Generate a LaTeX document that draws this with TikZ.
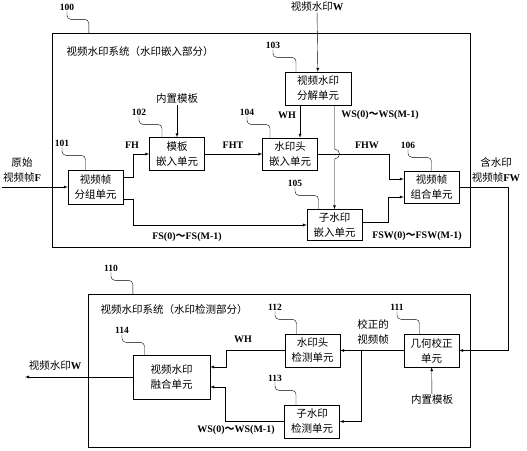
\documentclass[tikz,border=0pt]{standalone}
\usepackage{fontspec}
\setmainfont{Liberation Serif}
\newfontfamily\cjk{Noto Sans CJK SC}
\usetikzlibrary{positioning}
\newcommand{\lat}[1]{{\rmfamily\bfseries #1}}
\newcommand{\tl}{{\cjk ～}}

\begin{document}
\begin{tikzpicture}[x=1pt,y=-1pt]
% Define styles
\tikzstyle{unit}=[rectangle, draw, minimum width=55pt, minimum height=33pt, fill=white, align=center, inner sep=1pt, font=\cjk\fontsize{10.5}{15}\selectfont]
\tikzstyle{txt}=[align=center, inner sep=1pt, font=\cjk\fontsize{10.5}{15}\selectfont]
\tikzstyle{sig}=[inner sep=1pt, font=\bfseries\fontsize{10}{12}\selectfont]
\tikzstyle{num}=[inner sep=1pt, font=\bfseries\fontsize{9.5}{11}\selectfont]
\tikzstyle{arrow}=[->,>=latex]
\tikzstyle{lead}=[rounded corners=4pt]
\useasboundingbox (0,0) rectangle (527,450);
% System boxes
\node[draw, minimum width=418pt, minimum height=214pt, inner sep=0pt] (sysA) at (261,140) {};
\node[draw, minimum width=382pt, minimum height=153pt, inner sep=0pt] (sysB) at (279,370.5) {};
\node[txt] (titleA) at (140,52) {视频水印系统（水印嵌入部分）};
\node[txt] (titleB) at (174,310) {视频水印系统（水印检测部分）};
% Embedding units
\node[unit, minimum height=34pt] (split) at (95.5,187) {视频帧\\分组单元};
\node[unit] (tmpl) at (177,154) {模板\\嵌入单元};
\node[unit, minimum width=66pt] (decomp) at (318,88.5) {视频水印\\分解单元};
\node[unit, minimum height=32pt] (hdremb) at (290,154) {水印头\\嵌入单元};
\node[unit, minimum height=31pt] (subemb) at (334.5,225) {子水印\\嵌入单元};
\node[unit, minimum height=32pt] (comb) at (431.5,187) {视频帧\\组合单元};
% Detection units
\node[unit] (geo) at (431.5,350.5) {几何校正\\单元};
\node[unit] (hdrdet) at (312.5,350.5) {水印头\\检测单元};
\node[unit] (subdet) at (312,421.5) {子水印\\检测单元};
\node[unit, minimum width=77pt, minimum height=44pt] (fuse) at (171.5,377) {视频水印\\融合单元};
% Outside texts
\node[txt] (srcF) at (22,170) {原始\\视频帧\lat{F}};
\node[txt] (outFW) at (496,170) {含水印\\视频帧\lat{FW}};
\node[txt] (wtop) at (317,7) {视频水印\lat{W}};
\node[txt] (tmplA) at (177,99) {内置模板};
\node[txt] (tmplB) at (432,400) {内置模板};
\node[txt] (wbot) at (55,366) {视频水印\lat{W}};
\node[txt] (corr) at (373,332) {校正的\\视频帧};
% Coordinates
\coordinate (fin) at (2,187);
\coordinate (fwturn) at (508,350.5);
\coordinate (wout) at (25,377);
\coordinate (br) at (361,350.5);
% Draw arrows (embedding)
\draw[arrow] (fin) -- (split);
\draw[arrow] ([yshift=10pt]split.east) -- ++(10,0) |- (tmpl.west);
\draw[arrow] ([yshift=-12pt]split.east) -- ++(10,0) |- (subemb.west);
\draw[arrow] (tmplA) -- (tmpl);
\draw[arrow] (tmpl) -- (hdremb);
\draw[arrow] (wtop) -- (decomp);
\draw[arrow] ([xshift=-18pt]decomp.south) -- ([xshift=10pt]hdremb.north);
\draw[arrow] (hdremb.east) -- ++(71,0) |- ([yshift=8pt]comb.west);
\draw[arrow] (decomp.south -| subemb.north) -- ([yshift=5pt]hdremb.east -| subemb.north) arc(-90:90:5) -- (subemb.north);
\draw[arrow] ([yshift=3pt]subemb.east) -- ++(26,0) |- ([yshift=-10pt]comb.west);
\draw[arrow] (comb.east) -| (fwturn) -- (geo.east);
% Draw arrows (detection)
\draw[arrow] (tmplB) -- (geo);
\draw[arrow] (geo) -- (hdrdet);
\draw[arrow] (br) |- (subdet.east);
\draw[arrow] (hdrdet.west) -- ++(-59,0) |- ([yshift=10pt]fuse.east);
\draw[arrow] (subdet.west) -- ++(-59,0) |- ([yshift=-10pt]fuse.east);
\draw[arrow] (fuse) -- (wout);
% Signal labels
\node[sig] (lFH) at (132,145) {FH};
\node[sig] (lFHT) at (233,145) {FHT};
\node[sig] (lWH) at (287,115) {WH};
\node[sig] (lWS) at (380,115) {WS(0)\tl WS(M-1)};
\node[sig] (lFHW) at (367,145) {FHW};
\node[sig] (lFS) at (187,237) {FS(0)\tl FS(M-1)};
\node[sig] (lFSW) at (417,236) {FSW(0)\tl FSW(M-1)};
\node[sig] (lWHb) at (243,339) {WH};
\node[sig] (lWSb) at (236,430) {WS(0)\tl WS(M-1)};
% Reference numbers
\node[num] (n100) at (67,7) {100};
\node[num] (n101) at (62,143) {101};
\node[num] (n102) at (139,112) {102};
\node[num] (n103) at (273,45) {103};
\node[num] (n104) at (247,112) {104};
\node[num] (n105) at (295,183) {105};
\node[num] (n106) at (408,145) {106};
\node[num] (n110) at (111,268) {110};
\node[num] (n111) at (397,307) {111};
\node[num] (n112) at (275,307) {112};
\node[num] (n113) at (275,378) {113};
\node[num] (n114) at (122,330) {114};
\draw[lead] (n100.south) -- ++(0,8) -| ([xshift=37pt]sysA.north west);
\draw[lead] (n101.south) -- ++(0,8) -| ([xshift=-10pt]split.north);
\draw[lead] (n102.south) -- ++(0,8) -| ([xshift=-15pt]tmpl.north);
\draw[lead] (n103.south) -- ++(0,8) -| ([xshift=-22pt]decomp.north);
\draw[lead] (n104.south) -- ++(0,8) -| ([xshift=-20pt]hdremb.north);
\draw[lead] (n105.south) -- ++(0,8) -| ([xshift=-16pt]subemb.north);
\draw[lead] (n106.south) -- ++(0,8) -| (comb.north);
\draw[lead] (n110.south) -- ++(0,8) -| ([xshift=45pt]sysB.north west);
\draw[lead] (n111.south) -- ++(0,8) -| ([xshift=-12pt]geo.north);
\draw[lead] (n112.south) -- ++(0,8) -| ([xshift=-16pt]hdrdet.north);
\draw[lead] (n113.south) -- ++(0,8) -| ([xshift=-16pt]subdet.north);
\draw[lead] (n114.south) -- ++(0,8) -| ([xshift=-27pt]fuse.north);
\end{tikzpicture}
\end{document}
